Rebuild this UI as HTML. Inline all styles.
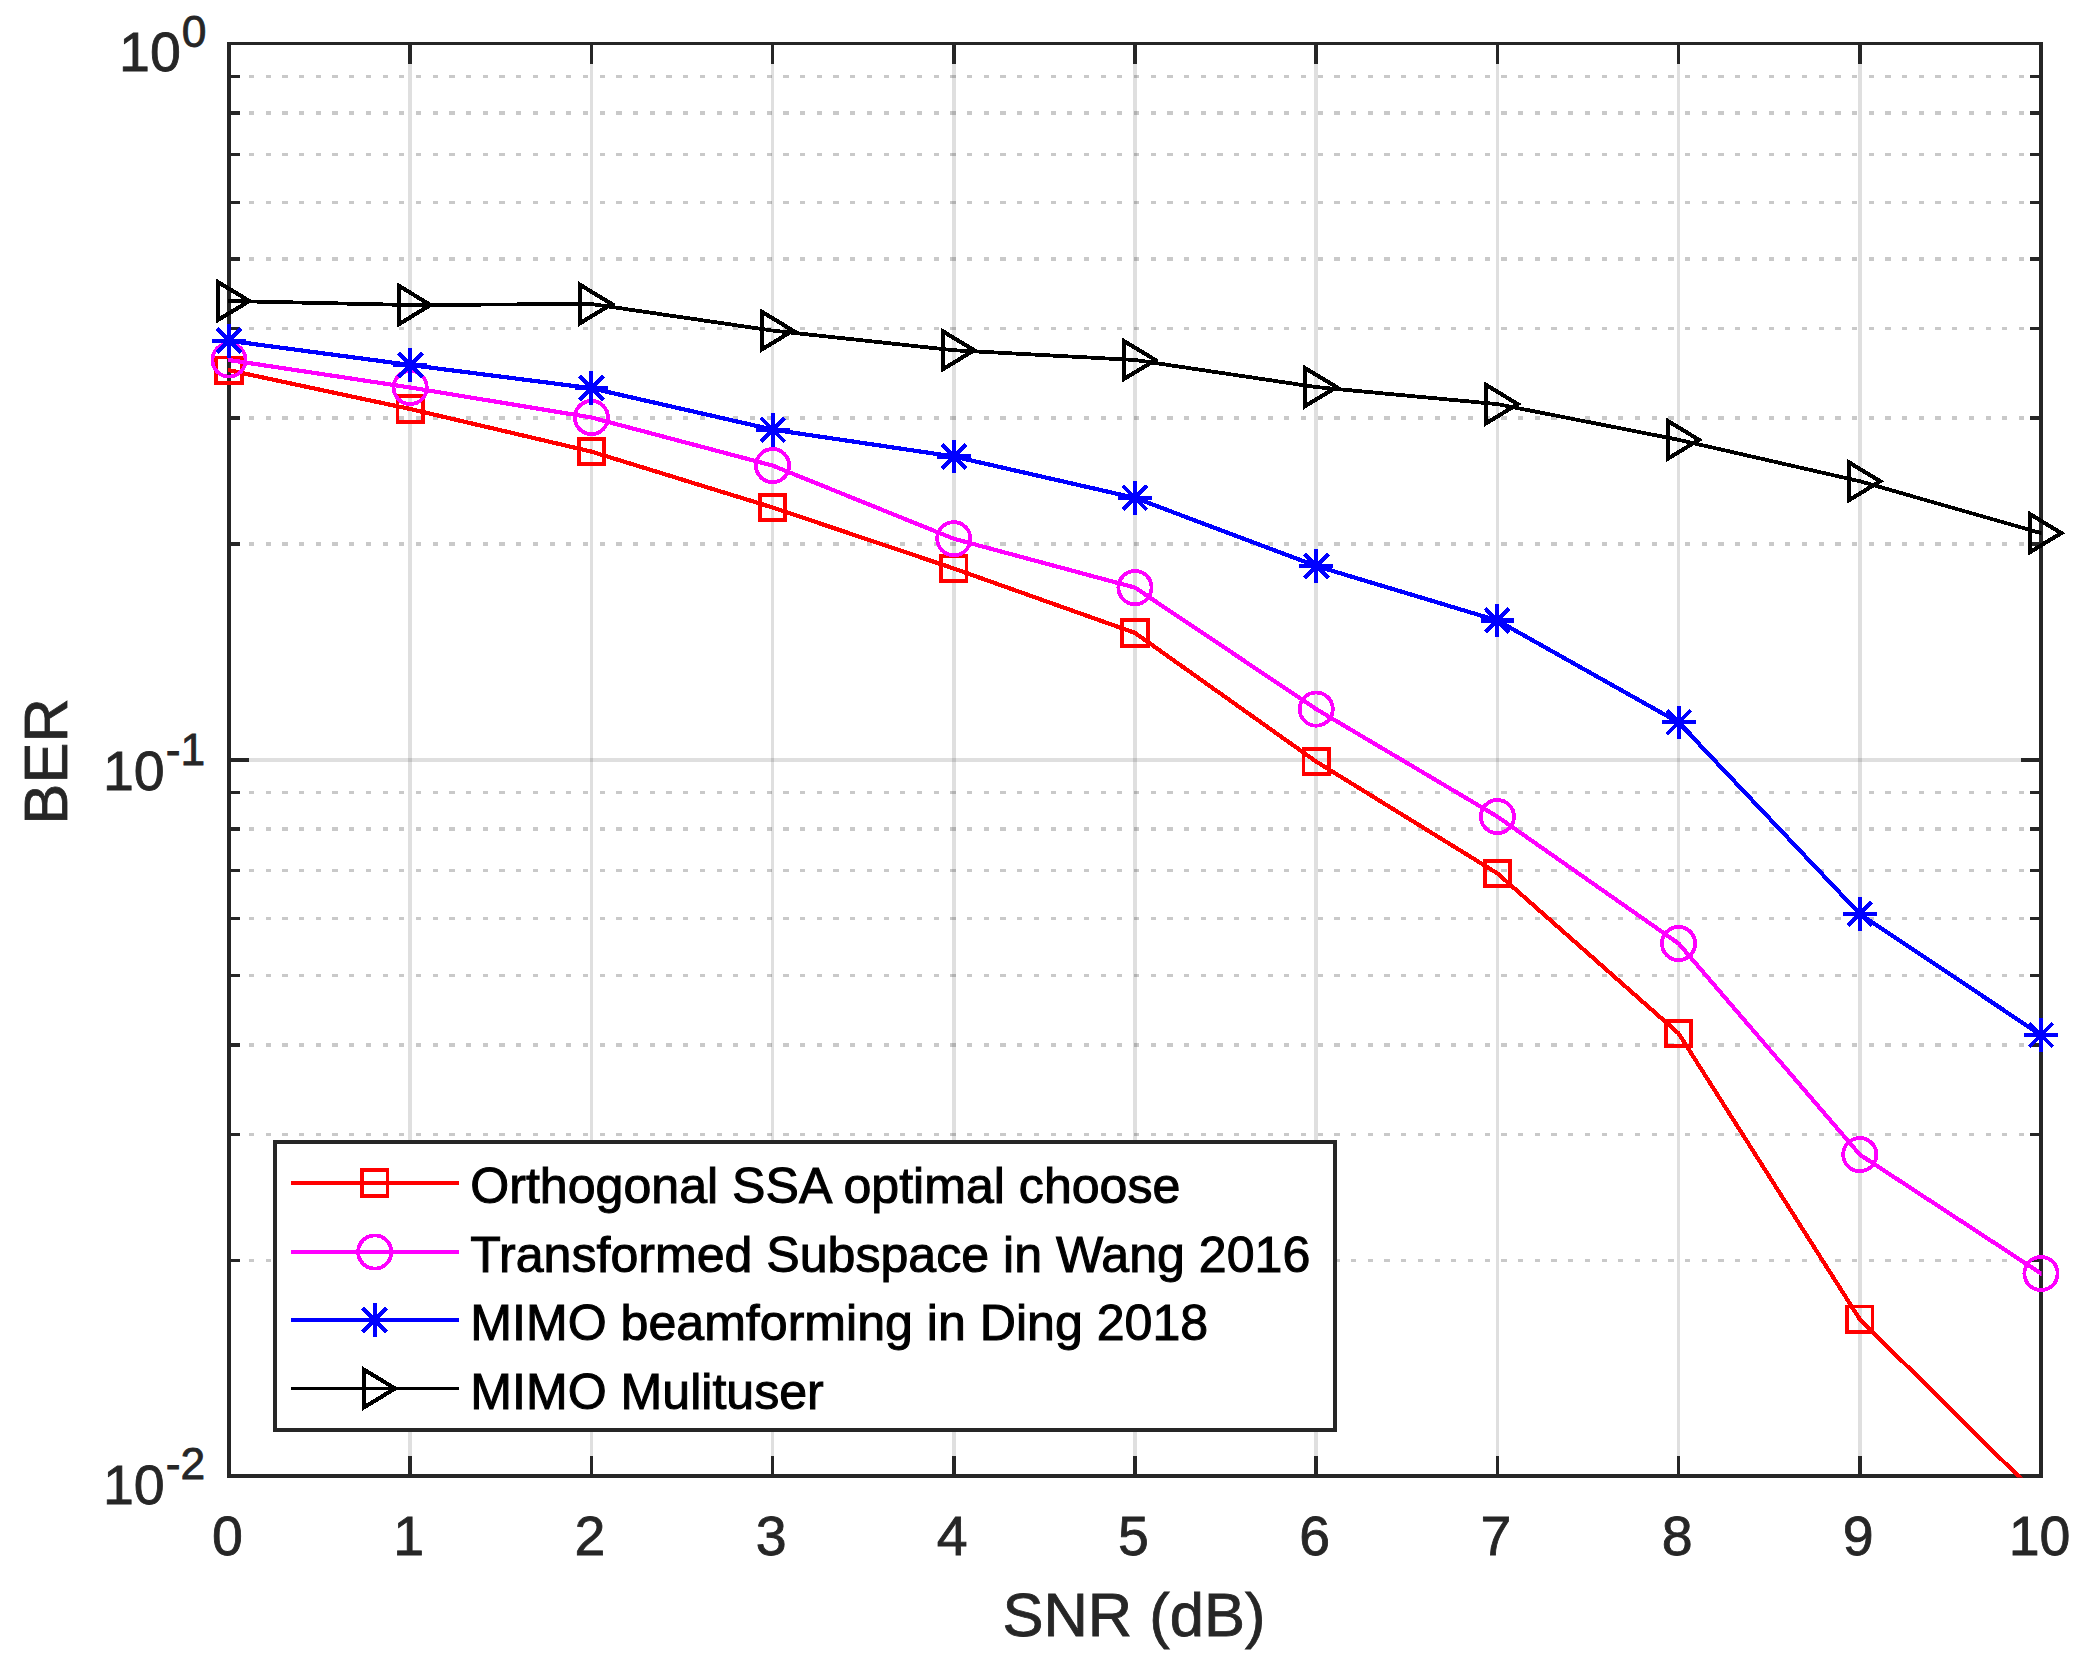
<!DOCTYPE html>
<html lang="en"><head><meta charset="utf-8"><title>BER vs SNR</title>
<style>html,body{margin:0;padding:0;background:#fff}svg{display:block}text{font-family:"Liberation Sans",sans-serif}</style>
</head><body>
<svg width="2090" height="1680" viewBox="0 0 2090 1680">
<rect width="2090" height="1680" fill="#fff"/>
<defs><clipPath id="ax"><rect x="228" y="43" width="1813.5" height="1434.6"/></clipPath></defs>
<g shape-rendering="crispEdges">
<line x1="249" x2="2028" y1="544.14" y2="544.14" stroke="#262626" stroke-opacity="0.25" stroke-width="3.5" stroke-dasharray="5.2 11.498"/>
<line x1="249" x2="2028" y1="418.01" y2="418.01" stroke="#262626" stroke-opacity="0.25" stroke-width="3.5" stroke-dasharray="5.2 11.498"/>
<line x1="249" x2="2028" y1="328.52" y2="328.52" stroke="#262626" stroke-opacity="0.25" stroke-width="3.5" stroke-dasharray="5.2 11.498"/>
<line x1="249" x2="2028" y1="259.11" y2="259.11" stroke="#262626" stroke-opacity="0.25" stroke-width="3.5" stroke-dasharray="5.2 11.498"/>
<line x1="249" x2="2028" y1="202.40" y2="202.40" stroke="#262626" stroke-opacity="0.25" stroke-width="3.5" stroke-dasharray="5.2 11.498"/>
<line x1="249" x2="2028" y1="154.45" y2="154.45" stroke="#262626" stroke-opacity="0.25" stroke-width="3.5" stroke-dasharray="5.2 11.498"/>
<line x1="249" x2="2028" y1="112.91" y2="112.91" stroke="#262626" stroke-opacity="0.25" stroke-width="3.5" stroke-dasharray="5.2 11.498"/>
<line x1="249" x2="2028" y1="76.27" y2="76.27" stroke="#262626" stroke-opacity="0.25" stroke-width="3.5" stroke-dasharray="5.2 11.498"/>
<line x1="249" x2="2028" y1="1260.39" y2="1260.39" stroke="#262626" stroke-opacity="0.25" stroke-width="3.5" stroke-dasharray="5.2 11.498"/>
<line x1="249" x2="2028" y1="1134.26" y2="1134.26" stroke="#262626" stroke-opacity="0.25" stroke-width="3.5" stroke-dasharray="5.2 11.498"/>
<line x1="249" x2="2028" y1="1044.77" y2="1044.77" stroke="#262626" stroke-opacity="0.25" stroke-width="3.5" stroke-dasharray="5.2 11.498"/>
<line x1="249" x2="2028" y1="975.36" y2="975.36" stroke="#262626" stroke-opacity="0.25" stroke-width="3.5" stroke-dasharray="5.2 11.498"/>
<line x1="249" x2="2028" y1="918.65" y2="918.65" stroke="#262626" stroke-opacity="0.25" stroke-width="3.5" stroke-dasharray="5.2 11.498"/>
<line x1="249" x2="2028" y1="870.70" y2="870.70" stroke="#262626" stroke-opacity="0.25" stroke-width="3.5" stroke-dasharray="5.2 11.498"/>
<line x1="249" x2="2028" y1="829.16" y2="829.16" stroke="#262626" stroke-opacity="0.25" stroke-width="3.5" stroke-dasharray="5.2 11.498"/>
<line x1="249" x2="2028" y1="792.52" y2="792.52" stroke="#262626" stroke-opacity="0.25" stroke-width="3.5" stroke-dasharray="5.2 11.498"/>
<line x1="410.20" x2="410.20" y1="64" y2="1456" stroke="#262626" stroke-opacity="0.15" stroke-width="3.5"/>
<line x1="591.40" x2="591.40" y1="64" y2="1456" stroke="#262626" stroke-opacity="0.15" stroke-width="3.5"/>
<line x1="772.60" x2="772.60" y1="64" y2="1456" stroke="#262626" stroke-opacity="0.15" stroke-width="3.5"/>
<line x1="953.80" x2="953.80" y1="64" y2="1456" stroke="#262626" stroke-opacity="0.15" stroke-width="3.5"/>
<line x1="1135.00" x2="1135.00" y1="64" y2="1456" stroke="#262626" stroke-opacity="0.15" stroke-width="3.5"/>
<line x1="1316.20" x2="1316.20" y1="64" y2="1456" stroke="#262626" stroke-opacity="0.15" stroke-width="3.5"/>
<line x1="1497.40" x2="1497.40" y1="64" y2="1456" stroke="#262626" stroke-opacity="0.15" stroke-width="3.5"/>
<line x1="1678.60" x2="1678.60" y1="64" y2="1456" stroke="#262626" stroke-opacity="0.15" stroke-width="3.5"/>
<line x1="1859.80" x2="1859.80" y1="64" y2="1456" stroke="#262626" stroke-opacity="0.15" stroke-width="3.5"/>
<line x1="247" x2="2022" y1="759.75" y2="759.75" stroke="#262626" stroke-opacity="0.15" stroke-width="3.5"/>
<line x1="410.20" x2="410.20" y1="45" y2="64" stroke="#262626" stroke-width="3.5"/>
<line x1="410.20" x2="410.20" y1="1456" y2="1474" stroke="#262626" stroke-width="3.5"/>
<line x1="591.40" x2="591.40" y1="45" y2="64" stroke="#262626" stroke-width="3.5"/>
<line x1="591.40" x2="591.40" y1="1456" y2="1474" stroke="#262626" stroke-width="3.5"/>
<line x1="772.60" x2="772.60" y1="45" y2="64" stroke="#262626" stroke-width="3.5"/>
<line x1="772.60" x2="772.60" y1="1456" y2="1474" stroke="#262626" stroke-width="3.5"/>
<line x1="953.80" x2="953.80" y1="45" y2="64" stroke="#262626" stroke-width="3.5"/>
<line x1="953.80" x2="953.80" y1="1456" y2="1474" stroke="#262626" stroke-width="3.5"/>
<line x1="1135.00" x2="1135.00" y1="45" y2="64" stroke="#262626" stroke-width="3.5"/>
<line x1="1135.00" x2="1135.00" y1="1456" y2="1474" stroke="#262626" stroke-width="3.5"/>
<line x1="1316.20" x2="1316.20" y1="45" y2="64" stroke="#262626" stroke-width="3.5"/>
<line x1="1316.20" x2="1316.20" y1="1456" y2="1474" stroke="#262626" stroke-width="3.5"/>
<line x1="1497.40" x2="1497.40" y1="45" y2="64" stroke="#262626" stroke-width="3.5"/>
<line x1="1497.40" x2="1497.40" y1="1456" y2="1474" stroke="#262626" stroke-width="3.5"/>
<line x1="1678.60" x2="1678.60" y1="45" y2="64" stroke="#262626" stroke-width="3.5"/>
<line x1="1678.60" x2="1678.60" y1="1456" y2="1474" stroke="#262626" stroke-width="3.5"/>
<line x1="1859.80" x2="1859.80" y1="45" y2="64" stroke="#262626" stroke-width="3.5"/>
<line x1="1859.80" x2="1859.80" y1="1456" y2="1474" stroke="#262626" stroke-width="3.5"/>
<line x1="231" x2="240" y1="544.14" y2="544.14" stroke="#262626" stroke-width="3.5"/>
<line x1="2030" x2="2039" y1="544.14" y2="544.14" stroke="#262626" stroke-width="3.5"/>
<line x1="231" x2="240" y1="418.01" y2="418.01" stroke="#262626" stroke-width="3.5"/>
<line x1="2030" x2="2039" y1="418.01" y2="418.01" stroke="#262626" stroke-width="3.5"/>
<line x1="231" x2="240" y1="328.52" y2="328.52" stroke="#262626" stroke-width="3.5"/>
<line x1="2030" x2="2039" y1="328.52" y2="328.52" stroke="#262626" stroke-width="3.5"/>
<line x1="231" x2="240" y1="259.11" y2="259.11" stroke="#262626" stroke-width="3.5"/>
<line x1="2030" x2="2039" y1="259.11" y2="259.11" stroke="#262626" stroke-width="3.5"/>
<line x1="231" x2="240" y1="202.40" y2="202.40" stroke="#262626" stroke-width="3.5"/>
<line x1="2030" x2="2039" y1="202.40" y2="202.40" stroke="#262626" stroke-width="3.5"/>
<line x1="231" x2="240" y1="154.45" y2="154.45" stroke="#262626" stroke-width="3.5"/>
<line x1="2030" x2="2039" y1="154.45" y2="154.45" stroke="#262626" stroke-width="3.5"/>
<line x1="231" x2="240" y1="112.91" y2="112.91" stroke="#262626" stroke-width="3.5"/>
<line x1="2030" x2="2039" y1="112.91" y2="112.91" stroke="#262626" stroke-width="3.5"/>
<line x1="231" x2="240" y1="76.27" y2="76.27" stroke="#262626" stroke-width="3.5"/>
<line x1="2030" x2="2039" y1="76.27" y2="76.27" stroke="#262626" stroke-width="3.5"/>
<line x1="231" x2="240" y1="1260.39" y2="1260.39" stroke="#262626" stroke-width="3.5"/>
<line x1="2030" x2="2039" y1="1260.39" y2="1260.39" stroke="#262626" stroke-width="3.5"/>
<line x1="231" x2="240" y1="1134.26" y2="1134.26" stroke="#262626" stroke-width="3.5"/>
<line x1="2030" x2="2039" y1="1134.26" y2="1134.26" stroke="#262626" stroke-width="3.5"/>
<line x1="231" x2="240" y1="1044.77" y2="1044.77" stroke="#262626" stroke-width="3.5"/>
<line x1="2030" x2="2039" y1="1044.77" y2="1044.77" stroke="#262626" stroke-width="3.5"/>
<line x1="231" x2="240" y1="975.36" y2="975.36" stroke="#262626" stroke-width="3.5"/>
<line x1="2030" x2="2039" y1="975.36" y2="975.36" stroke="#262626" stroke-width="3.5"/>
<line x1="231" x2="240" y1="918.65" y2="918.65" stroke="#262626" stroke-width="3.5"/>
<line x1="2030" x2="2039" y1="918.65" y2="918.65" stroke="#262626" stroke-width="3.5"/>
<line x1="231" x2="240" y1="870.70" y2="870.70" stroke="#262626" stroke-width="3.5"/>
<line x1="2030" x2="2039" y1="870.70" y2="870.70" stroke="#262626" stroke-width="3.5"/>
<line x1="231" x2="240" y1="829.16" y2="829.16" stroke="#262626" stroke-width="3.5"/>
<line x1="2030" x2="2039" y1="829.16" y2="829.16" stroke="#262626" stroke-width="3.5"/>
<line x1="231" x2="240" y1="792.52" y2="792.52" stroke="#262626" stroke-width="3.5"/>
<line x1="2030" x2="2039" y1="792.52" y2="792.52" stroke="#262626" stroke-width="3.5"/>
<line x1="231" x2="249" y1="759.75" y2="759.75" stroke="#262626" stroke-width="3.5"/>
<line x1="2021" x2="2039" y1="759.75" y2="759.75" stroke="#262626" stroke-width="3.5"/>
<rect x="227" y="42" width="4" height="1436" fill="#262626"/>
<rect x="2039" y="42" width="4" height="1436" fill="#262626"/>
<rect x="227" y="42" width="1816" height="3" fill="#262626"/>
<rect x="227" y="1474" width="1816" height="4" fill="#262626"/>
</g>
<g shape-rendering="crispEdges">
<polyline points="229.00,370.25 410.20,409.00 591.40,451.60 772.60,507.50 953.80,568.50 1135.00,632.90 1316.20,761.60 1497.40,873.40 1678.60,1033.45 1859.80,1319.25 2041.00,1498.60" fill="none" stroke="#ff0000" stroke-width="4.2" stroke-linejoin="round" stroke-linecap="square" clip-path="url(#ax)"/>
<rect x="216.30" y="357.55" width="25.4" height="25.4" fill="none" stroke="#ff0000" stroke-width="3.8"/>
<rect x="397.50" y="396.30" width="25.4" height="25.4" fill="none" stroke="#ff0000" stroke-width="3.8"/>
<rect x="578.70" y="438.90" width="25.4" height="25.4" fill="none" stroke="#ff0000" stroke-width="3.8"/>
<rect x="759.90" y="494.80" width="25.4" height="25.4" fill="none" stroke="#ff0000" stroke-width="3.8"/>
<rect x="941.10" y="555.80" width="25.4" height="25.4" fill="none" stroke="#ff0000" stroke-width="3.8"/>
<rect x="1122.30" y="620.20" width="25.4" height="25.4" fill="none" stroke="#ff0000" stroke-width="3.8"/>
<rect x="1303.50" y="748.90" width="25.4" height="25.4" fill="none" stroke="#ff0000" stroke-width="3.8"/>
<rect x="1484.70" y="860.70" width="25.4" height="25.4" fill="none" stroke="#ff0000" stroke-width="3.8"/>
<rect x="1665.90" y="1020.75" width="25.4" height="25.4" fill="none" stroke="#ff0000" stroke-width="3.8"/>
<rect x="1847.10" y="1306.55" width="25.4" height="25.4" fill="none" stroke="#ff0000" stroke-width="3.8"/>
<polyline points="229.00,360.00 410.20,387.50 591.40,417.50 772.60,465.60 953.80,538.75 1135.00,587.60 1316.20,709.10 1497.40,816.60 1678.60,943.50 1859.80,1154.60 2041.00,1273.50" fill="none" stroke="#ff00ff" stroke-width="4.2" stroke-linejoin="round" stroke-linecap="square" clip-path="url(#ax)"/>
<circle cx="229.00" cy="360.00" r="16.6" fill="none" stroke="#ff00ff" stroke-width="3.8"/>
<circle cx="410.20" cy="387.50" r="16.6" fill="none" stroke="#ff00ff" stroke-width="3.8"/>
<circle cx="591.40" cy="417.50" r="16.6" fill="none" stroke="#ff00ff" stroke-width="3.8"/>
<circle cx="772.60" cy="465.60" r="16.6" fill="none" stroke="#ff00ff" stroke-width="3.8"/>
<circle cx="953.80" cy="538.75" r="16.6" fill="none" stroke="#ff00ff" stroke-width="3.8"/>
<circle cx="1135.00" cy="587.60" r="16.6" fill="none" stroke="#ff00ff" stroke-width="3.8"/>
<circle cx="1316.20" cy="709.10" r="16.6" fill="none" stroke="#ff00ff" stroke-width="3.8"/>
<circle cx="1497.40" cy="816.60" r="16.6" fill="none" stroke="#ff00ff" stroke-width="3.8"/>
<circle cx="1678.60" cy="943.50" r="16.6" fill="none" stroke="#ff00ff" stroke-width="3.8"/>
<circle cx="1859.80" cy="1154.60" r="16.6" fill="none" stroke="#ff00ff" stroke-width="3.8"/>
<circle cx="2041.00" cy="1273.50" r="16.6" fill="none" stroke="#ff00ff" stroke-width="3.8"/>
<polyline points="229.00,340.75 410.20,365.00 591.40,388.25 772.60,429.60 953.80,456.50 1135.00,497.90 1316.20,566.00 1497.40,620.50 1678.60,722.40 1859.80,913.90 2041.00,1035.10" fill="none" stroke="#0000ff" stroke-width="4.2" stroke-linejoin="round" stroke-linecap="square" clip-path="url(#ax)"/>
<path d="M212.10 340.75H245.90M229.00 323.85V357.65M217.05 328.80L240.95 352.70M217.05 352.70L240.95 328.80" fill="none" stroke="#0000ff" stroke-width="4.1"/>
<path d="M393.30 365.00H427.10M410.20 348.10V381.90M398.25 353.05L422.15 376.95M398.25 376.95L422.15 353.05" fill="none" stroke="#0000ff" stroke-width="4.1"/>
<path d="M574.50 388.25H608.30M591.40 371.35V405.15M579.45 376.30L603.35 400.20M579.45 400.20L603.35 376.30" fill="none" stroke="#0000ff" stroke-width="4.1"/>
<path d="M755.70 429.60H789.50M772.60 412.70V446.50M760.65 417.65L784.55 441.55M760.65 441.55L784.55 417.65" fill="none" stroke="#0000ff" stroke-width="4.1"/>
<path d="M936.90 456.50H970.70M953.80 439.60V473.40M941.85 444.55L965.75 468.45M941.85 468.45L965.75 444.55" fill="none" stroke="#0000ff" stroke-width="4.1"/>
<path d="M1118.10 497.90H1151.90M1135.00 481.00V514.80M1123.05 485.95L1146.95 509.85M1123.05 509.85L1146.95 485.95" fill="none" stroke="#0000ff" stroke-width="4.1"/>
<path d="M1299.30 566.00H1333.10M1316.20 549.10V582.90M1304.25 554.05L1328.15 577.95M1304.25 577.95L1328.15 554.05" fill="none" stroke="#0000ff" stroke-width="4.1"/>
<path d="M1480.50 620.50H1514.30M1497.40 603.60V637.40M1485.45 608.55L1509.35 632.45M1485.45 632.45L1509.35 608.55" fill="none" stroke="#0000ff" stroke-width="4.1"/>
<path d="M1661.70 722.40H1695.50M1678.60 705.50V739.30M1666.65 710.45L1690.55 734.35M1666.65 734.35L1690.55 710.45" fill="none" stroke="#0000ff" stroke-width="4.1"/>
<path d="M1842.90 913.90H1876.70M1859.80 897.00V930.80M1847.85 901.95L1871.75 925.85M1847.85 925.85L1871.75 901.95" fill="none" stroke="#0000ff" stroke-width="4.1"/>
<path d="M2024.10 1035.10H2057.90M2041.00 1018.20V1052.00M2029.05 1023.15L2052.95 1047.05M2029.05 1047.05L2052.95 1023.15" fill="none" stroke="#0000ff" stroke-width="4.1"/>
<polyline points="229.00,301.00 410.20,305.00 591.40,304.00 772.60,330.60 953.80,350.25 1135.00,360.00 1316.20,387.10 1497.40,404.10 1678.60,439.80 1859.80,481.25 2041.00,533.10" fill="none" stroke="#000000" stroke-width="3.8" stroke-linejoin="round" stroke-linecap="square" clip-path="url(#ax)"/>
<path d="M218.00 282.00V320.00L249.30 301.00Z" fill="none" stroke="#000000" stroke-width="4.1" stroke-linejoin="miter" stroke-miterlimit="10"/>
<path d="M399.20 286.00V324.00L430.50 305.00Z" fill="none" stroke="#000000" stroke-width="4.1" stroke-linejoin="miter" stroke-miterlimit="10"/>
<path d="M580.40 285.00V323.00L611.70 304.00Z" fill="none" stroke="#000000" stroke-width="4.1" stroke-linejoin="miter" stroke-miterlimit="10"/>
<path d="M761.60 311.60V349.60L792.90 330.60Z" fill="none" stroke="#000000" stroke-width="4.1" stroke-linejoin="miter" stroke-miterlimit="10"/>
<path d="M942.80 331.25V369.25L974.10 350.25Z" fill="none" stroke="#000000" stroke-width="4.1" stroke-linejoin="miter" stroke-miterlimit="10"/>
<path d="M1124.00 341.00V379.00L1155.30 360.00Z" fill="none" stroke="#000000" stroke-width="4.1" stroke-linejoin="miter" stroke-miterlimit="10"/>
<path d="M1305.20 368.10V406.10L1336.50 387.10Z" fill="none" stroke="#000000" stroke-width="4.1" stroke-linejoin="miter" stroke-miterlimit="10"/>
<path d="M1486.40 385.10V423.10L1517.70 404.10Z" fill="none" stroke="#000000" stroke-width="4.1" stroke-linejoin="miter" stroke-miterlimit="10"/>
<path d="M1667.60 420.80V458.80L1698.90 439.80Z" fill="none" stroke="#000000" stroke-width="4.1" stroke-linejoin="miter" stroke-miterlimit="10"/>
<path d="M1848.80 462.25V500.25L1880.10 481.25Z" fill="none" stroke="#000000" stroke-width="4.1" stroke-linejoin="miter" stroke-miterlimit="10"/>
<path d="M2030.00 514.10V552.10L2061.30 533.10Z" fill="none" stroke="#000000" stroke-width="4.1" stroke-linejoin="miter" stroke-miterlimit="10"/>
</g>
<g shape-rendering="crispEdges">
<rect x="275" y="1142" width="1060" height="288" fill="#fff" stroke="#262626" stroke-width="4"/>
<line x1="291" x2="459" y1="1183" y2="1183" stroke="#ff0000" stroke-width="4.2"/>
<rect x="362.05" y="1170.30" width="25.4" height="25.4" fill="none" stroke="#ff0000" stroke-width="3.8"/>
<line x1="291" x2="459" y1="1252" y2="1252" stroke="#ff00ff" stroke-width="4.2"/>
<circle cx="374.75" cy="1252.00" r="16.6" fill="none" stroke="#ff00ff" stroke-width="3.8"/>
<line x1="291" x2="459" y1="1320" y2="1320" stroke="#0000ff" stroke-width="4.2"/>
<path d="M357.85 1320.00H391.65M374.75 1303.10V1336.90M362.80 1308.05L386.70 1331.95M362.80 1331.95L386.70 1308.05" fill="none" stroke="#0000ff" stroke-width="4.1"/>
<line x1="291" x2="459" y1="1388.5" y2="1388.5" stroke="#000000" stroke-width="3.8"/>
<path d="M363.75 1369.50V1407.50L395.05 1388.50Z" fill="none" stroke="#000000" stroke-width="4.1" stroke-linejoin="miter" stroke-miterlimit="10"/>
</g>
<text x="470.30" y="1202.90" font-size="50.1" fill="#000" stroke="#000" stroke-width="1" text-anchor="start">Orthogonal SSA optimal choose</text>
<text x="470.30" y="1271.50" font-size="50.1" fill="#000" stroke="#000" stroke-width="1" text-anchor="start">Transformed Subspace in Wang 2016</text>
<text x="470.30" y="1340.10" font-size="50.1" fill="#000" stroke="#000" stroke-width="1" text-anchor="start">MIMO beamforming in Ding 2018</text>
<text x="470.30" y="1408.70" font-size="50.1" fill="#000" stroke="#000" stroke-width="1" text-anchor="start">MIMO Mulituser</text>
<text x="227.50" y="1554.60" font-size="55.5" fill="#262626" stroke="#262626" stroke-width="0.8" text-anchor="middle">0</text>
<text x="408.70" y="1554.60" font-size="55.5" fill="#262626" stroke="#262626" stroke-width="0.8" text-anchor="middle">1</text>
<text x="589.90" y="1554.60" font-size="55.5" fill="#262626" stroke="#262626" stroke-width="0.8" text-anchor="middle">2</text>
<text x="771.10" y="1554.60" font-size="55.5" fill="#262626" stroke="#262626" stroke-width="0.8" text-anchor="middle">3</text>
<text x="952.30" y="1554.60" font-size="55.5" fill="#262626" stroke="#262626" stroke-width="0.8" text-anchor="middle">4</text>
<text x="1133.50" y="1554.60" font-size="55.5" fill="#262626" stroke="#262626" stroke-width="0.8" text-anchor="middle">5</text>
<text x="1314.70" y="1554.60" font-size="55.5" fill="#262626" stroke="#262626" stroke-width="0.8" text-anchor="middle">6</text>
<text x="1495.90" y="1554.60" font-size="55.5" fill="#262626" stroke="#262626" stroke-width="0.8" text-anchor="middle">7</text>
<text x="1677.10" y="1554.60" font-size="55.5" fill="#262626" stroke="#262626" stroke-width="0.8" text-anchor="middle">8</text>
<text x="1858.30" y="1554.60" font-size="55.5" fill="#262626" stroke="#262626" stroke-width="0.8" text-anchor="middle">9</text>
<text x="2039.50" y="1554.60" font-size="55.5" fill="#262626" stroke="#262626" stroke-width="0.8" text-anchor="middle">10</text>
<text x="206.50" y="71.00" font-size="55.5" fill="#262626" stroke="#262626" stroke-width="0.8" text-anchor="end">10<tspan font-size="44.4" dx="1" dy="-24.5">0</tspan></text>
<text x="205.20" y="789.80" font-size="55.5" fill="#262626" stroke="#262626" stroke-width="0.8" text-anchor="end">10<tspan font-size="44.4" dx="1" dy="-25">-1</tspan></text>
<text x="205.20" y="1504.20" font-size="55.5" fill="#262626" stroke="#262626" stroke-width="0.8" text-anchor="end">10<tspan font-size="44.4" dx="1" dy="-25.5">-2</tspan></text>
<text x="1134.00" y="1635.60" font-size="61.5" fill="#262626" stroke="#262626" stroke-width="0.8" text-anchor="middle">SNR (dB)</text>
<text transform="translate(67.2,761.4) rotate(-90)" font-size="61.5" fill="#262626" stroke="#262626" stroke-width="0.8" text-anchor="middle">BER</text>
</svg></body></html>
